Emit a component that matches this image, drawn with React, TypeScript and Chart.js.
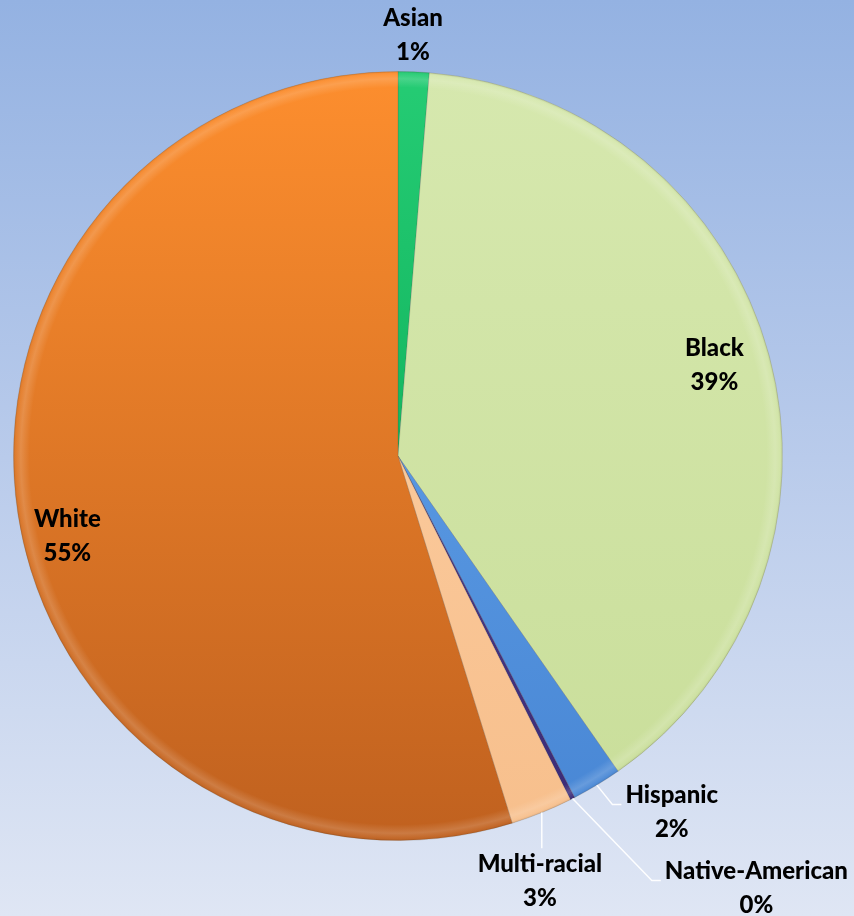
import React, { useEffect, useRef } from "react";
import { Chart, registerables } from "chart.js";

Chart.register(...registerables);

const categories = ["Asian", "Black", "Hispanic", "Native-American", "Multi-racial", "White"];
const shares = [1.3, 39.0, 2.1, 0.2, 2.6, 54.8];
const percentLabels = ["1%", "39%", "2%", "0%", "3%", "55%"];

const topColors = ["#25cc74", "#d6e8ae", "#67a8ee", "#5a4a9a", "#fed2a8", "#fd8e2e"];
const bottomColors = ["#02a04c", "#c9de9a", "#4886d4", "#3a2a76", "#f7bf8c", "#c0611f"];

// label placement relative to pie centre, in units of the radius
const labelLayout = [
  { fx: 0.039, fy: -1.094, leader: "none" },
  { fx: 0.823, fy: -0.236, leader: "none" },
  { fx: 0.712, fy: 0.927, leader: "elbow" },
  { fx: 0.932, fy: 1.125, leader: "elbow" },
  { fx: 0.369, fy: 1.106, leader: "vertical" },
  { fx: -0.86, fy: 0.21, leader: "none" },
];

const FONT = "900 24px Lato, 'Open Sans', sans-serif";
const LINE_GAP = 34;

const labelPlugin = {
  id: "sliceLabels",
  afterDatasetsDraw(chart: any) {
    const meta = chart.getDatasetMeta(0);
    const ctx: CanvasRenderingContext2D = chart.ctx;
    const a0 = meta.data[0] as any;
    const cx = a0.x;
    const cy = a0.y;
    const r = a0.outerRadius;

    // bevel rim on every slice
    meta.data.forEach((arc: any) => {
      ctx.save();
      ctx.beginPath();
      ctx.moveTo(cx, cy);
      ctx.arc(cx, cy, r, arc.startAngle, arc.endAngle);
      ctx.closePath();
      ctx.clip();
      const g = ctx.createRadialGradient(cx, cy, r - 16, cx, cy, r);
      g.addColorStop(0, "rgba(255,255,255,0)");
      g.addColorStop(0.55, "rgba(255,255,255,0.16)");
      g.addColorStop(0.85, "rgba(255,255,255,0.05)");
      g.addColorStop(1, "rgba(0,0,0,0.1)");
      ctx.fillStyle = g;
      ctx.fillRect(cx - r, cy - r, 2 * r, 2 * r);
      ctx.restore();
    });

    ctx.save();
    ctx.font = FONT;
    ctx.textAlign = "center";
    ctx.textBaseline = "middle";
    meta.data.forEach((arc: any, i: number) => {
      const lay = labelLayout[i];
      const lx = cx + lay.fx * r;
      const ly = cy + lay.fy * r;
      const name = categories[i];
      const pct = percentLabels[i];
      const mid = (arc.startAngle + arc.endAngle) / 2;
      const sx = cx + r * Math.cos(mid);
      const sy = cy + r * Math.sin(mid);
      const w = ctx.measureText(name).width;
      ctx.strokeStyle = "rgba(255,255,255,0.95)";
      ctx.lineWidth = 1.5;
      if (lay.leader === "elbow") {
        const left = lx - w / 2;
        const yy = ly - 8;
        ctx.beginPath();
        ctx.moveTo(sx, sy);
        ctx.lineTo(left - 13, yy);
        ctx.lineTo(left - 4, yy);
        ctx.stroke();
      } else if (lay.leader === "vertical") {
        ctx.beginPath();
        ctx.moveTo(sx, sy);
        ctx.lineTo(sx, ly - LINE_GAP / 2 - 16);
        ctx.stroke();
      }
      ctx.fillStyle = "#000000";
      ctx.fillText(name, lx, ly - LINE_GAP / 2);
      ctx.fillText(pct, lx, ly + LINE_GAP / 2);
    });
    ctx.restore();
  },
};

export default function App() {
  const ref = useRef<HTMLCanvasElement | null>(null);
  useEffect(() => {
    if (!ref.current) return;
    const chart = new Chart(ref.current, {
      type: "pie",
      data: {
        labels: categories,
        datasets: [
          {
            data: shares,
            backgroundColor: (c: any) => {
              const i = c.dataIndex;
              const area = c.chart.chartArea;
              if (!area) return topColors[i];
              const g = c.chart.ctx.createLinearGradient(0, area.top, 0, area.bottom);
              g.addColorStop(0, topColors[i]);
              g.addColorStop(1, bottomColors[i]);
              return g;
            },
            borderColor: "rgba(90,70,50,0.18)",
            borderWidth: 1,
          },
        ],
      },
      options: {
        animation: false,
        responsive: false,
        layout: { padding: { left: 13, right: 71, top: 71, bottom: 75 } },
        plugins: {
          legend: { display: false },
          tooltip: { enabled: false },
        },
      },
      plugins: [labelPlugin],
    });
    return () => chart.destroy();
  }, []);

  return (
    <div
      style={{
        position: "absolute",
        left: 0,
        top: 0,
        width: 854,
        height: 916,
        background: "linear-gradient(to bottom, #94b2e2 0%, #b9cbeb 50%, #dfe6f4 100%)",
      }}
    >
      <canvas ref={ref} width={854} height={916} style={{ display: "block" }} />
    </div>
  );
}
